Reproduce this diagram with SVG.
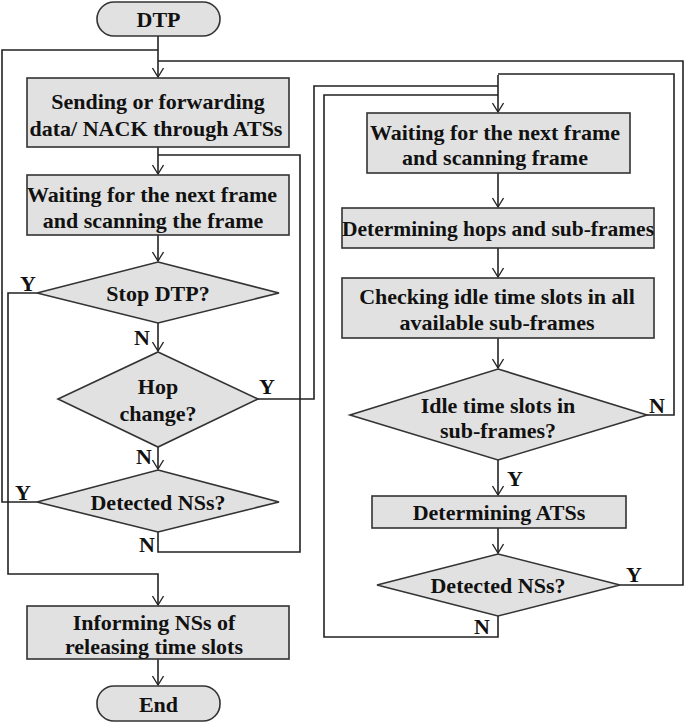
<svg xmlns="http://www.w3.org/2000/svg" width="685" height="723" viewBox="0 0 685 723">
<defs>
<marker id="arr" markerWidth="12" markerHeight="12" refX="10" refY="6" orient="auto" markerUnits="userSpaceOnUse">
<path d="M1,0.5 L10,6 L1,11.5" fill="none" stroke="#222" stroke-width="1.3"/>
</marker>
<style>
.n{fill:#e1e1e1;stroke:#333;stroke-width:1.6}
.t{font-family:'Liberation Serif','Times New Roman',serif;font-weight:700;font-size:22px;fill:#111;text-anchor:middle}
.l{font-family:'Liberation Serif','Times New Roman',serif;font-weight:700;font-size:22px;fill:#111}
.c{fill:none;stroke:#222;stroke-width:1.6}
</style>
</defs>
<rect width="685" height="723" fill="#fff"/>
<g id="connectors">
<path class="c" d="M158,36 V77" marker-end="url(#arr)"/>
<path class="c" d="M158,147 V174" marker-end="url(#arr)"/>
<path class="c" d="M158,235 V261" marker-end="url(#arr)"/>
<path class="c" d="M158,323 V351" marker-end="url(#arr)"/>
<path class="c" d="M158,447 V469" marker-end="url(#arr)"/>
<path class="c" d="M37,502 H2 V50 H158"/>
<path class="c" d="M37,293 H8 V574 H158 V605" marker-end="url(#arr)"/>
<path class="c" d="M158,532 V552 H300 V155 H158"/>
<path class="c" d="M158,659 V685" marker-end="url(#arr)"/>
<path class="c" d="M258,399 H314 V86 H498"/>
<path class="c" d="M498,75 V112" marker-end="url(#arr)"/>
<path class="c" d="M498,173 V207" marker-end="url(#arr)"/>
<path class="c" d="M498,248 V277" marker-end="url(#arr)"/>
<path class="c" d="M498,338 V368" marker-end="url(#arr)"/>
<path class="c" d="M498,460 V495" marker-end="url(#arr)"/>
<path class="c" d="M498,528 V553" marker-end="url(#arr)"/>
<path class="c" d="M647,415 H674 V74 H498"/>
<path class="c" d="M620,585 H683 V61 H158"/>
<path class="c" d="M498,616 V637 H324 V95 H498"/>
</g>
<g id="dtp"><rect class="n" x="97" y="2" width="123" height="34" rx="17"/><text class="t" x="158.5" y="27">DTP</text></g>
<g id="send"><rect class="n" x="27" y="78" width="262" height="69"/><text class="t" x="158" y="109">Sending or forwarding</text><text class="t" x="156" y="136">data/ NACK through ATSs</text></g>
<g id="wait1"><rect class="n" x="27" y="175" width="262" height="60"/><text class="t" x="152" y="202">Waiting for the next frame</text><text class="t" x="153" y="228">and scanning the frame</text></g>
<g id="stop"><polygon class="n" points="158,262 279,293 158,323 37,293"/><text class="t" x="158" y="301">Stop DTP?</text><text class="l" x="20" y="291">Y</text><text class="l" x="134" y="345">N</text></g>
<g id="hop"><polygon class="n" points="158,352 258,399 158,447 58,399"/><text class="t" x="158" y="394">Hop</text><text class="t" x="158" y="421">change?</text><text class="l" x="259" y="394">Y</text><text class="l" x="136" y="464">N</text></g>
<g id="det1"><polygon class="n" points="158,470 279,502 158,532 37,502"/><text class="t" x="158" y="510">Detected NSs?</text><text class="l" x="15" y="500">Y</text><text class="l" x="139" y="552">N</text></g>
<g id="inform"><rect class="n" x="27" y="606" width="262" height="53"/><text class="t" x="154" y="630">Informing NSs of</text><text class="t" x="154" y="654">releasing time slots</text></g>
<g id="end"><rect class="n" x="97" y="686" width="123" height="35" rx="17"/><text class="t" x="158.5" y="712">End</text></g>
<g id="wait2"><rect class="n" x="367" y="113" width="263" height="60"/><text class="t" x="495" y="140">Waiting for the next frame</text><text class="t" x="495" y="165">and scanning frame</text></g>
<g id="hops"><rect class="n" x="342" y="208" width="312" height="40"/><text class="t" x="498" y="236" textLength="312" lengthAdjust="spacingAndGlyphs">Determining hops and sub-frames</text></g>
<g id="check"><rect class="n" x="342" y="278" width="312" height="60"/><text class="t" x="497" y="304">Checking idle time slots in all</text><text class="t" x="497" y="330">available sub-frames</text></g>
<g id="idle"><polygon class="n" points="498,369 647,415 498,460 350,415"/><text class="t" x="498" y="413">Idle time slots in</text><text class="t" x="498" y="438">sub-frames?</text><text class="l" x="649" y="413">N</text><text class="l" x="507" y="486">Y</text></g>
<g id="atss"><rect class="n" x="372" y="496" width="254" height="32"/><text class="t" x="499" y="520">Determining ATSs</text></g>
<g id="det2"><polygon class="n" points="498,554 620,585 498,616 377,585"/><text class="t" x="498" y="593">Detected NSs?</text><text class="l" x="626" y="582">Y</text><text class="l" x="474" y="634">N</text></g>
</svg>
